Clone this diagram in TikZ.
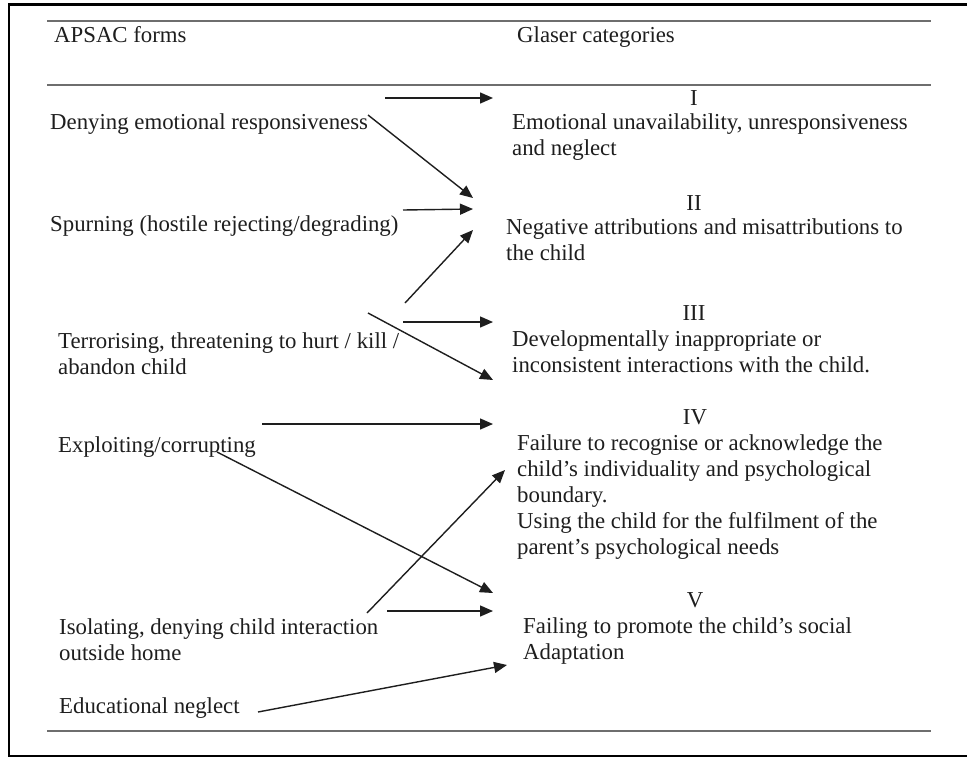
\documentclass[tikz,border=0pt]{standalone}
\usepackage{fontspec}
\setmainfont{Liberation Serif}
\usetikzlibrary{arrows.meta}
\definecolor{ink}{HTML}{1E1E1E}
\definecolor{rulegray}{HTML}{6E6E6E}
\begin{document}
\begin{tikzpicture}[x=1pt,y=-1pt,
  txt/.style={font=\fontsize{22.8}{26.2}\selectfont, inner sep=0pt, anchor=base west, align=left, text=ink},
  num/.style={font=\fontsize{22.8}{26.2}\selectfont, inner sep=0pt, anchor=base, text=ink},
  rulel/.style={draw=rulegray, line width=2.5pt},
  framel/.style={draw=black, line width=2.5pt},
  arr/.style={draw=ink, line width=1.4pt, -{Triangle[length=13pt,width=11pt]}}]
\useasboundingbox (0,0) rectangle (967,758);
\fill[white] (0,0) rectangle (967,758);
% frame
\draw[framel] (967,4.5) -- (9,4.5) -- (9,756) -- (967,756);
% rules
\draw[rulel] (47,21) -- (931,21);
\draw[rulel] (47,85) -- (931,85);
\draw[rulel] (47,731) -- (931,731);
% headers (multi-line nodes are placed at the baseline of their last line)
\node[txt] (hA) at (54,42) {APSAC forms};
\node[txt] (hG) at (517,42) {Glaser categories};
% left column
\node[txt] (den) at (50,129) {Denying emotional responsiveness};
\node[txt] (spu) at (50,231) {Spurning (hostile rejecting/degrading)};
\node[txt] (ter) at (58,374.2) {Terrorising, threatening to hurt / kill /\\abandon child};
\node[txt] (exp) at (58,452) {Exploiting/corrupting};
\node[txt] (iso) at (59,660.2) {Isolating, denying child interaction\\outside home};
\node[txt] (edu) at (59,713) {Educational neglect};
% right column
\node[num] (n1) at (694,105) {I};
\node[txt] (c1) at (512,155.2) {Emotional unavailability, unresponsiveness\\and neglect};
\node[num] (n2) at (694,210) {II};
\node[txt] (c2) at (506,260.2) {Negative attributions and misattributions to\\the child};
\node[num] (n3) at (694,320) {III};
\node[txt] (c3) at (512,372.2) {Developmentally inappropriate or\\inconsistent interactions with the child.};
\node[num] (n4) at (695,424) {IV};
\node[txt] (c4) at (517,554.8) {Failure to recognise or acknowledge the\\child’s individuality and psychological\\boundary.\\Using the child for the fulfilment of the\\parent’s psychological needs};
\node[num] (n5) at (695,607) {V};
\node[txt] (c5) at (523,659.2) {Failing to promote the child’s social\\Adaptation};
% arrow end points
\coordinate (s1) at (385,98);   \coordinate (t1) at (493,98);
\coordinate (s2) at (368,115);  \coordinate (t2) at (473,198);
\coordinate (s3) at (403,210);  \coordinate (t3) at (473,209);
\coordinate (s4) at (405,303);  \coordinate (t4) at (473,230);
\coordinate (s5) at (403,322);  \coordinate (t5) at (493,322);
\coordinate (s6) at (368,313);  \coordinate (t6) at (493,380);
\coordinate (s7) at (262,424);  \coordinate (t7) at (493,424);
\coordinate (s8) at (217,452);  \coordinate (t8) at (493,593);
\coordinate (s9) at (367,613);  \coordinate (t9) at (505,470);
\coordinate (s10) at (387,611); \coordinate (t10) at (493,611);
\coordinate (s11) at (258,712); \coordinate (t11) at (507,665);
\foreach \i in {1,...,11} \draw[arr] (s\i) -- (t\i);
\end{tikzpicture}
\end{document}
